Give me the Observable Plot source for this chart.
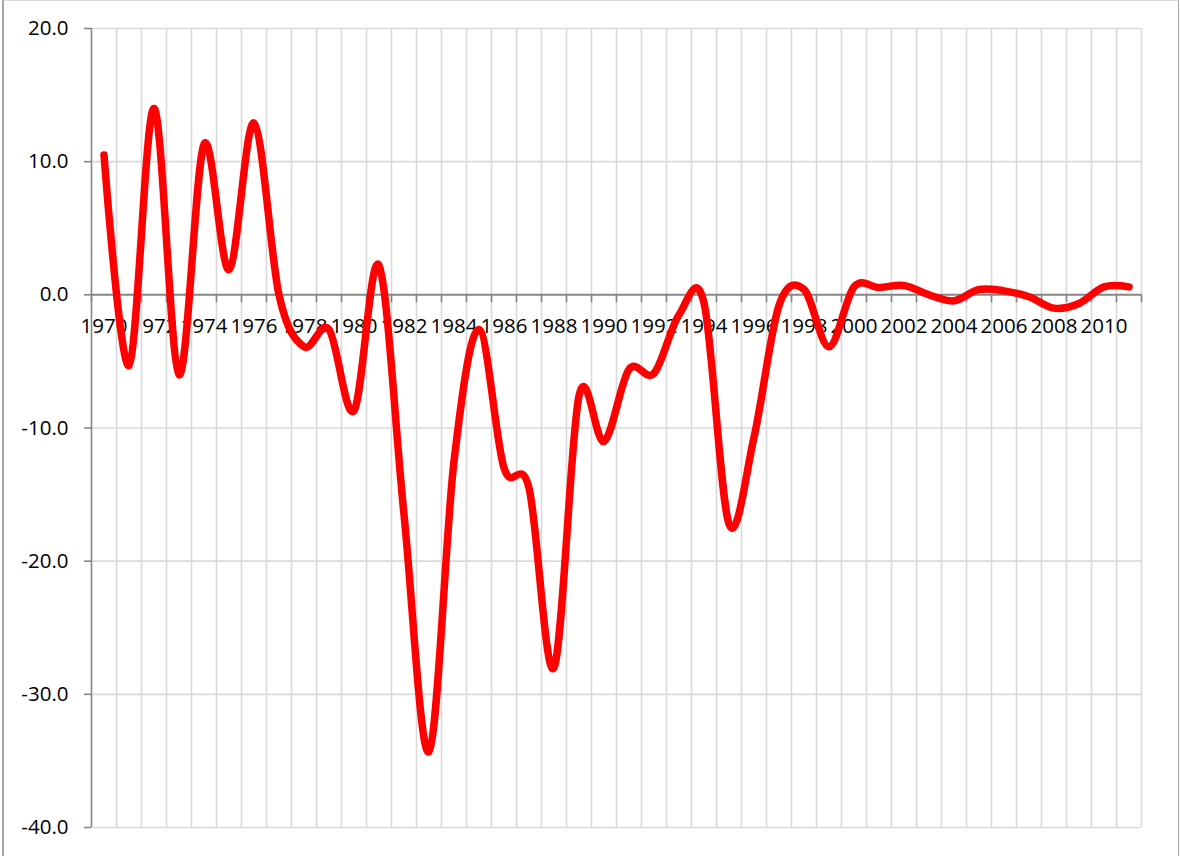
<!DOCTYPE html>
<html>
<head>
<meta charset="utf-8">
<script src="https://cdn.jsdelivr.net/npm/d3@7"></script>
<script src="https://cdn.jsdelivr.net/npm/@observablehq/plot@0.6"></script>
<style>
  html, body { margin: 0; padding: 0; background: #fff; }
  #wrap { position: relative; width: 1180px; height: 856px; overflow: hidden; }
  #frame { position: absolute; left: 2px; top: 0; width: 1177px; height: 856px; box-sizing: border-box;
           border-left: 2px solid #a6a6a6; border-right: 1px solid #a6a6a6; border-top: 1px solid #d9d9d9; pointer-events: none; }
</style>
</head>
<body>
<div id="wrap"><div id="chart"></div><div id="frame"></div></div>
<script>
const years = [1970, 1971, 1972, 1973, 1974, 1975, 1976, 1977, 1978, 1979,
               1980, 1981, 1982, 1983, 1984, 1985, 1986, 1987, 1988, 1989,
               1990, 1991, 1992, 1993, 1994, 1995, 1996, 1997, 1998, 1999,
               2000, 2001, 2002, 2003, 2004, 2005, 2006, 2007, 2008, 2009,
               2010, 2011];
const values = [10.5, -5.3, 14.0, -6.0, 11.3, 1.9, 12.9, 0.0, -3.9, -2.6,
                -8.7, 2.2, -16.5, -34.3, -12.5, -2.6, -13.0, -14.5, -28.0, -7.6,
                -11.0, -5.6, -5.9, -1.5, -0.6, -17.2, -10.7, -0.8, 0.4, -3.9,
                0.6, 0.55, 0.7, 0.0, -0.45, 0.4, 0.3, -0.15, -1.0, -0.65,
                0.6, 0.6];
const xTickLabels = [1970, 1972, 1974, 1976, 1978, 1980, 1982, 1984, 1986, 1988,
                     1990, 1992, 1994, 1996, 1998, 2000, 2002, 2004, 2006, 2008, 2010];
const yTicks = [-40, -30, -20, -10, 0, 10, 20];

const data = years.map((y, i) => ({year: y, value: values[i]}));
// category boundaries (Excel draws gridlines between categories)
const bounds = years.map(y => y - 0.5).concat([years[years.length - 1] + 0.5]);
const gridY = yTicks.filter(v => v !== 0);

const chart = Plot.plot({
  width: 1180,
  height: 856,
  marginLeft: 91,
  marginRight: 39,
  marginTop: 28,
  marginBottom: 29,
  style: {fontFamily: "'Open Sans', sans-serif", fontSize: "20.5px", color: "#000", background: "#fff", overflow: "visible"},
  x: {type: "linear", domain: [bounds[0], bounds[bounds.length - 1]], axis: null},
  y: {domain: [-40, 20], axis: null},
  marks: [
    Plot.ruleY(gridY, {stroke: "#d9d9d9", strokeWidth: 1.6}),
    Plot.ruleX(bounds.slice(1), {stroke: "#d9d9d9", strokeWidth: 1.6}),
    Plot.ruleX([bounds[0]], {stroke: "#868686", strokeWidth: 1.6}),
    Plot.axisY(yTicks, {tickSize: 7, tickPadding: 16, stroke: "#868686", strokeWidth: 1.6, fill: "#000",
                        tickFormat: d => d.toFixed(1), label: null, fontSize: 20.5}),
    Plot.ruleX(bounds, {x: d => d, y1: () => 0, y2: () => 0, insetBottom: -8, stroke: "#868686", strokeWidth: 1.6}),
    Plot.ruleY([0], {stroke: "#868686", strokeWidth: 2}),
    Plot.text(xTickLabels, {x: d => d, y: () => 0, dy: 31.5, text: d => String(d), fill: "#000", fontSize: 20.5, textAnchor: "middle"}),
    Plot.line(data, {x: "year", y: "value", stroke: "#ff0000", strokeWidth: 7.5, curve: "cardinal",
                     strokeLinecap: "round", strokeLinejoin: "round"})
  ]
});
document.getElementById("chart").appendChild(chart);
</script>
</body>
</html>
